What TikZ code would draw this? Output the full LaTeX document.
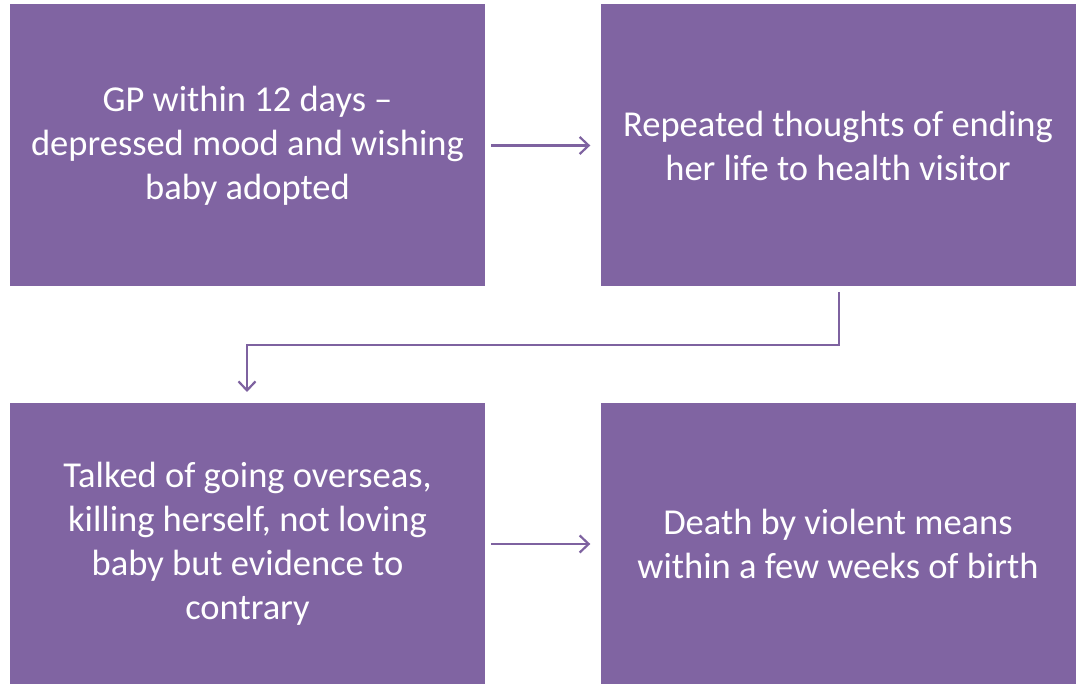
\documentclass[tikz,border=0pt]{standalone}
\usepackage{fontspec}
\setmainfont{Carlito}
\usetikzlibrary{arrows.meta}
\definecolor{boxpurple}{HTML}{8064A2}
\definecolor{linkpurple}{HTML}{7E62A0}
\tikzset{
  stagebox/.style={fill=boxpurple, draw=none, minimum width=475pt, minimum height=282pt,
    inner sep=0pt, align=center, text=white,
    font=\fontsize{36.5pt}{44pt}\selectfont},
  link/.style={draw=linkpurple, line width=2.2pt,
    -{Straight Barb[length=9pt,width=17pt,line width=2.2pt]}}
}
\begin{document}
\begin{tikzpicture}[x=1pt,y=-1pt]
  \useasboundingbox (0,0) rectangle (1080,684);
  \node[stagebox] (gp) at (247.5,145.5) {GP within 12 days --\\depressed mood and wishing\\baby adopted};
  \node[stagebox] (hv) at (838,145.5) {Repeated thoughts of ending\\her life to health visitor};
  \node[stagebox] (talk) at (247.5,544) {Talked of going overseas,\\killing herself, not loving\\baby but evidence to\\contrary};
  \node[stagebox] (death) at (838,544) {Death by violent means\\within a few weeks of birth};
  \coordinate (hvout) at (839,292);
  \coordinate (talkin) at (247,392);
  \draw[link] ([xshift=6pt]gp.east) -- ([xshift=-10pt]hv.west);
  \draw[link] (hvout) |- (talkin |- 0,345) -- (talkin);
  \draw[link] ([xshift=6pt]talk.east) -- ([xshift=-10pt]death.west);
\end{tikzpicture}
\end{document}
